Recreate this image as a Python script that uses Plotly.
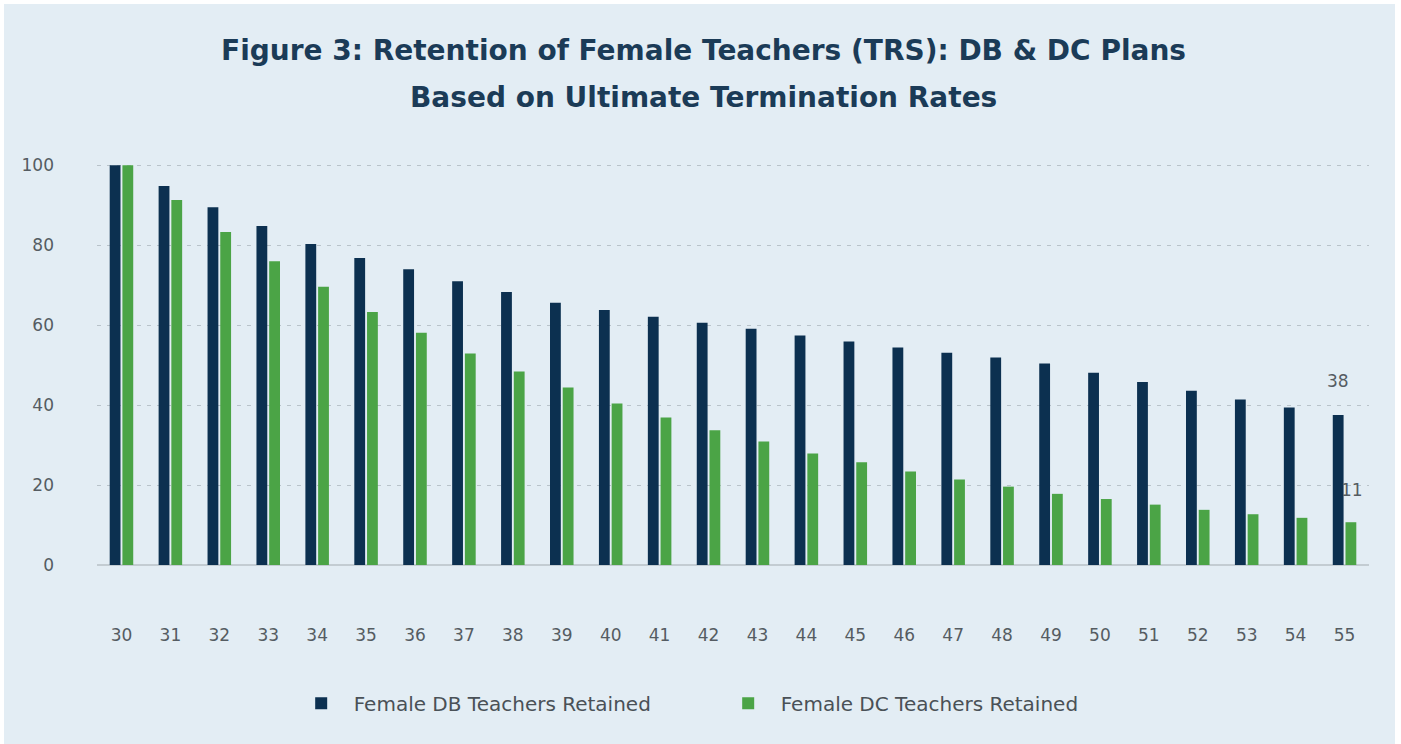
import plotly.graph_objects as go

ages = [str(a) for a in range(30, 56)]
db_retained = [100, 94.8, 89.5, 84.8, 80.3, 76.8, 74.0, 71.0, 68.3, 65.6, 63.8, 62.1, 60.6,
               59.1, 57.4, 55.9, 54.4, 53.1, 51.9, 50.4, 48.1, 45.8, 43.6, 41.4, 39.4, 37.5]
dc_retained = [100, 91.3, 83.3, 76.0, 69.6, 63.3, 58.1, 52.9, 48.4, 44.4, 40.4, 36.9, 33.7,
               30.9, 27.9, 25.7, 23.4, 21.4, 19.6, 17.8, 16.5, 15.1, 13.8, 12.7, 11.8, 10.7]
y_ticks = [0, 20, 40, 60, 80, 100]
end_labels = ["38", "11"]

BG = "#e3edf4"
NAVY = "#0c3050"
GREEN = "#4ba446"
TXT = "#555c62"
TITLE = "#1b3b57"
FONT = "DejaVu Sans"

fig = go.Figure()
fig.add_trace(go.Bar(x=ages, y=db_retained, name="Female DB Teachers Retained",
                     marker=dict(color=NAVY, line=dict(width=0))))
fig.add_trace(go.Bar(x=ages, y=dc_retained, name="Female DC Teachers Retained",
                     marker=dict(color=GREEN, line=dict(width=0))))

last = len(ages) - 1
# end-of-series value labels
fig.add_annotation(x=last, y=db_retained[-1], text=end_labels[0], showarrow=False,
                   xshift=-7, yshift=22, yanchor="bottom",
                   font=dict(family=FONT, size=17, color=TXT))
fig.add_annotation(x=last, y=dc_retained[-1], text=end_labels[1], showarrow=False,
                   xshift=7, yshift=20, yanchor="bottom",
                   font=dict(family=FONT, size=17, color=TXT))

# title lines
fig.add_annotation(xref="paper", yref="paper", x=0.477, y=1.284,
                   text="<b>Figure 3:</b> Retention of Female Teachers (TRS): DB &amp; DC Plans",
                   showarrow=False, xanchor="center", yanchor="middle",
                   font=dict(family=FONT, size=28, color=TITLE, weight=600))
fig.add_annotation(xref="paper", yref="paper", x=0.477, y=1.167,
                   text="Based on Ultimate Termination Rates",
                   showarrow=False, xanchor="center", yanchor="middle",
                   font=dict(family=FONT, size=28, color=TITLE, weight=600))

fig.update_layout(
    width=1401, height=744,
    margin=dict(l=97, r=32, t=164, b=179),
    paper_bgcolor=BG, plot_bgcolor=BG,
    barmode="group", bargap=0.48, bargroupgap=0.15,
    font=dict(family=FONT, color=TXT),
    showlegend=True,
    legend=dict(orientation="h", x=0.1507, xanchor="left", y=-0.345, yanchor="middle",
                font=dict(family=FONT, size=20, color="#4a5157"),
                bgcolor="rgba(0,0,0,0)", itemwidth=55,
                entrywidth=357, entrywidthmode="pixels"),
    xaxis=dict(type="category", range=[-0.5, len(ages) - 0.5],
               showgrid=False, zeroline=False, showline=False,
               ticks="", ticklabelstandoff=58,
               tickfont=dict(family=FONT, size=17, color=TXT)),
    yaxis=dict(range=[0, 100.3], tickvals=y_ticks, showgrid=True,
               gridcolor="#b9c3ca", griddash="4px,6px", gridwidth=1.2,
               zeroline=True, zerolinecolor="#c3ccd2", zerolinewidth=2,
               showline=False, ticks="", ticklabelstandoff=42,
               tickfont=dict(family=FONT, size=17, color=TXT)),
    shapes=[
        dict(type="rect", xref="paper", yref="paper",
             x0=-97 / 1272, x1=-93 / 1272, y0=-179 / 401, y1=(401 + 164) / 401,
             fillcolor="white", line=dict(width=0), layer="above"),
        dict(type="rect", xref="paper", yref="paper",
             x0=(1395 - 97) / 1272, x1=(1401 - 97) / 1272, y0=-179 / 401, y1=(401 + 164) / 401,
             fillcolor="white", line=dict(width=0), layer="above"),
        dict(type="rect", xref="paper", yref="paper",
             x0=-97 / 1272, x1=(1401 - 97) / 1272, y0=(401 + 160) / 401, y1=(401 + 164) / 401,
             fillcolor="white", line=dict(width=0), layer="above"),
    ],
)

fig.write_html("out.html", config={"displayModeBar": False},
               post_script="document.body.style.margin='0';")
